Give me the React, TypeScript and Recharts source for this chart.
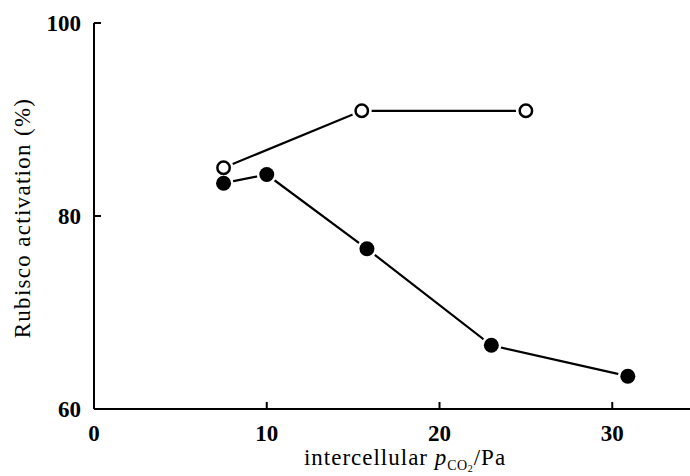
import React from "react";
import { Line, LineChart, XAxis, YAxis } from "recharts";

// open circles
const openX = [7.5, 15.5, 25];
const openY = [85, 90.9, 90.9];
// filled circles
const filledX = [7.5, 10, 15.8, 23, 30.9];
const filledY = [83.4, 84.3, 76.6, 66.6, 63.4];

const xTicks = [0, 10, 20, 30];
const yTicks = [60, 80, 100];

const openData = openX.map((x, i) => ({ x, y: openY[i] }));
const filledData = filledX.map((x, i) => ({ x, y: filledY[i] }));

const FONT = '"Liberation Serif", "DejaVu Serif", serif';
const TICK_LEN = 7;

function BottomTick(props: any) {
  const { x, y, payload } = props;
  return (
    <g>
      <line x1={x} y1={y} x2={x} y2={y - TICK_LEN} stroke="#000" strokeWidth={2} />
      <text x={x} y={y + 32} textAnchor="middle" fontFamily={FONT} fontWeight="bold" fontSize={23} fill="#000">
        {payload.value}
      </text>
    </g>
  );
}

function TopTick(props: any) {
  const { x, y } = props;
  return <line x1={x} y1={y} x2={x} y2={y + TICK_LEN + 1} stroke="#000" strokeWidth={2} />;
}

function LeftTick(props: any) {
  const { x, y, payload } = props;
  return (
    <g>
      <line x1={x} y1={y} x2={x + TICK_LEN} y2={y} stroke="#000" strokeWidth={2} />
      <text x={x - 13} y={y + 8} textAnchor="end" fontFamily={FONT} fontWeight="bold" fontSize={23} fill="#000">
        {payload.value}
      </text>
    </g>
  );
}

const halo = (props: any) => (
  <circle key={`h-${props.index}`} cx={props.cx} cy={props.cy} r={10} fill="#fff" />
);
const openDot = (props: any) => (
  <circle key={`o-${props.index}`} cx={props.cx} cy={props.cy} r={6.2} fill="#fff" stroke="#000" strokeWidth={2.5} />
);
const filledDot = (props: any) => (
  <circle key={`f-${props.index}`} cx={props.cx} cy={props.cy} r={7.5} fill="#000" />
);

function XTitle(props: any) {
  const vb = props.viewBox;
  const cx = vb.x + vb.width / 2 + 13;
  return (
    <text x={cx} y={vb.y + 56} textAnchor="middle" fontFamily={FONT} fontSize={23} letterSpacing={1} fill="#000">
      intercellular{" "}
      <tspan fontStyle="italic">p</tspan>
      <tspan fontSize={14} dy={5} letterSpacing={0.5}>CO</tspan>
      <tspan fontSize={10} dy={2}>2</tspan>
      <tspan dy={-7}>/Pa</tspan>
    </text>
  );
}

function YTitle(props: any) {
  const vb = props.viewBox;
  const cx = 22;
  const cy = vb.y + vb.height / 2 + 2;
  return (
    <text
      x={cx}
      y={cy}
      textAnchor="middle"
      dominantBaseline="central"
      transform={`rotate(-90, ${cx}, ${cy})`}
      fontFamily={FONT}
      fontSize={23}
      letterSpacing={1.3}
      fill="#000"
    >
      Rubisco activation (%)
    </text>
  );
}

export default function App() {
  return (
    <div style={{ position: "absolute", left: 0, top: 0, width: 690, height: 476, background: "#fff" }}>
      <LineChart width={690} height={476} margin={{ top: 23, right: 0, bottom: 0, left: 0 }}>
        <XAxis
          xAxisId="b"
          type="number"
          dataKey="x"
          domain={[0, 34.5]}
          ticks={xTicks}
          allowDataOverflow
          height={67}
          axisLine={{ stroke: "#000", strokeWidth: 2 }}
          tickLine={false}
          tickSize={0}
          tickMargin={0}
          tick={<BottomTick />}
          label={<XTitle />}
        />
        <XAxis
          xAxisId="t"
          orientation="top"
          type="number"
          dataKey="x"
          domain={[0, 34.5]}
          ticks={xTicks}
          allowDataOverflow
          height={0}
          axisLine={{ stroke: "#000", strokeWidth: 2 }}
          tickLine={false}
          tickSize={0}
          tickMargin={0}
          tick={<TopTick />}
        />
        <YAxis
          type="number"
          dataKey="y"
          domain={[60, 100]}
          ticks={yTicks}
          width={94}
          axisLine={{ stroke: "#000", strokeWidth: 2 }}
          tickLine={false}
          tickSize={0}
          tickMargin={0}
          tick={<LeftTick />}
          label={<YTitle />}
        />
        <Line xAxisId="b" data={filledData} dataKey="y" stroke="#000" strokeWidth={2.2} dot={false} isAnimationActive={false} />
        <Line xAxisId="b" data={openData} dataKey="y" stroke="#000" strokeWidth={2.2} dot={false} isAnimationActive={false} />
        <Line xAxisId="b" data={filledData} dataKey="y" stroke="none" dot={halo} activeDot={false} isAnimationActive={false} />
        <Line xAxisId="b" data={openData} dataKey="y" stroke="none" dot={halo} activeDot={false} isAnimationActive={false} />
        <Line xAxisId="b" data={filledData} dataKey="y" stroke="none" dot={filledDot} activeDot={false} isAnimationActive={false} />
        <Line xAxisId="b" data={openData} dataKey="y" stroke="none" dot={openDot} activeDot={false} isAnimationActive={false} />
      </LineChart>
    </div>
  );
}
